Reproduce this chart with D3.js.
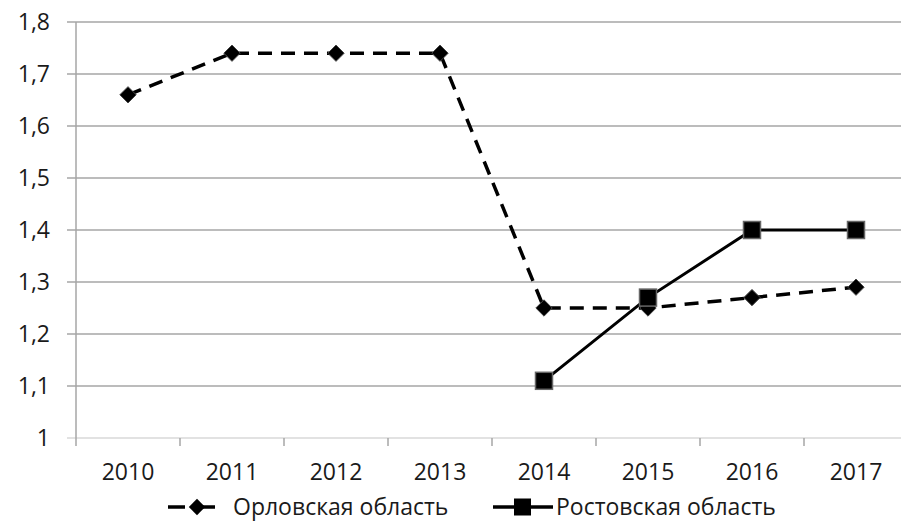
<!DOCTYPE html>
<html>
<head>
<meta charset="utf-8">
<script src="https://cdn.jsdelivr.net/npm/d3@7"></script>
<style>
  body { margin: 0; background: #fff; }
  text { font-family: 'Open Sans', sans-serif; fill: #1a1a1a; }
</style>
</head>
<body>
<svg width="901" height="529"></svg>
<script>
/* line chart: two regions */

// DATA ////////////////////////////////////////////////////////////////////////
const years = ['2010', '2011', '2012', '2013', '2014', '2015', '2016', '2017'];
const orel = [1.66, 1.74, 1.74, 1.74, 1.25, 1.25, 1.27, 1.29];
const rostov = [null, null, null, null, 1.11, 1.27, 1.40, 1.40];
const yTicks = [1, 1.1, 1.2, 1.3, 1.4, 1.5, 1.6, 1.7, 1.8];
const seriesNames = ['Орловская область', 'Ростовская область'];

// SET PARAMETERS //////////////////////////////////////////////////////////////
const svg = d3.select('svg');
const margin = { top: 22, right: -7, bottom: 91, left: 76 };
const width = +svg.attr('width') - margin.left - margin.right;
const height = +svg.attr('height') - margin.top - margin.bottom;
const g = svg
  .append('g')
  .attr('transform', `translate(${margin.left},${margin.top})`);

const x = d3.scaleBand().domain(years).range([0, width]);
const y = d3.scaleLinear().domain([1, 1.8]).range([height, 0]);
const fmt = d => d3.format('.1f')(d).replace('.', ',').replace(',0', '');

// DRAW ///////////////////////////////////////////////////////////////////////
// grid
g.append('g')
  .selectAll('line')
  .data(yTicks)
  .enter()
  .append('line')
  .attr('x1', -9)
  .attr('x2', width)
  .attr('y1', d => y(d))
  .attr('y2', d => y(d))
  .attr('stroke', d => (d === 1 ? '#d9d9d9' : '#a6a6a6'))
  .attr('stroke-width', 1.5);

// y axis
g.append('line')
  .attr('x1', 0)
  .attr('x2', 0)
  .attr('y1', 0)
  .attr('y2', height + 8)
  .attr('stroke', '#a6a6a6')
  .attr('stroke-width', 1.5);

g.append('g')
  .selectAll('text')
  .data(yTicks)
  .enter()
  .append('text')
  .attr('x', -26)
  .attr('y', d => y(d))
  .attr('dy', '0.35em')
  .attr('text-anchor', 'end')
  .style('font-size', '23px')
  .text(fmt);

// x axis ticks at band boundaries
g.append('g')
  .selectAll('line')
  .data(years.slice(1))
  .enter()
  .append('line')
  .attr('x1', d => x(d))
  .attr('x2', d => x(d))
  .attr('y1', height)
  .attr('y2', height + 8)
  .attr('stroke', '#a6a6a6')
  .attr('stroke-width', 1.5);

g.append('g')
  .selectAll('text')
  .data(years)
  .enter()
  .append('text')
  .attr('x', d => x(d) + x.bandwidth() / 2)
  .attr('y', height + 42)
  .attr('text-anchor', 'middle')
  .style('font-size', '23px')
  .text(d => d);

const cx = (d, i) => x(years[i]) + x.bandwidth() / 2;

// Орловская область
const lineOrel = d3
  .line()
  .x(cx)
  .y(d => y(d));

g.append('path')
  .datum(orel)
  .attr('fill', 'none')
  .attr('stroke', '#000')
  .attr('stroke-width', 3.5)
  .attr('stroke-dasharray', '14,9')
  .attr('d', lineOrel);

const diamond = d3.symbol().type(d3.symbolDiamond2).size(170);

g.append('g')
  .selectAll('path')
  .data(orel)
  .enter()
  .append('path')
  .attr('transform', (d, i) => `translate(${cx(d, i)},${y(d)})`)
  .attr('d', diamond)
  .attr('fill', '#000')
  .attr('stroke', '#444')
  .attr('stroke-width', 1);

// Ростовская область
const lineRostov = d3
  .line()
  .defined(d => d !== null)
  .x(cx)
  .y(d => y(d));

g.append('path')
  .datum(rostov)
  .attr('fill', 'none')
  .attr('stroke', '#000')
  .attr('stroke-width', 3)
  .attr('d', lineRostov);

g.append('g')
  .selectAll('rect')
  .data(rostov.map((v, i) => ({ v, i })).filter(d => d.v !== null))
  .enter()
  .append('rect')
  .attr('x', d => cx(d.v, d.i) - 8.5)
  .attr('y', d => y(d.v) - 8.5)
  .attr('width', 17)
  .attr('height', 17)
  .attr('fill', '#000')
  .attr('stroke', '#666')
  .attr('stroke-width', 1.5);

// legend
const legendY = 507;
const leg = svg.append('g');

leg.append('line')
  .attr('x1', 168)
  .attr('x2', 215)
  .attr('y1', legendY)
  .attr('y2', legendY)
  .attr('stroke', '#000')
  .attr('stroke-width', 3.5)
  .attr('stroke-dasharray', '17,13');
leg.append('path')
  .attr('transform', `translate(197,${legendY})`)
  .attr('d', diamond)
  .attr('fill', '#000');
leg.append('text')
  .attr('x', 233)
  .attr('y', legendY)
  .attr('dy', '0.35em')
  .style('font-size', '23px')
  .text(seriesNames[0]);

leg.append('line')
  .attr('x1', 493)
  .attr('x2', 553)
  .attr('y1', legendY)
  .attr('y2', legendY)
  .attr('stroke', '#000')
  .attr('stroke-width', 3.5);
leg.append('rect')
  .attr('x', 514)
  .attr('y', legendY - 8.5)
  .attr('width', 17)
  .attr('height', 17)
  .attr('fill', '#000');
leg.append('text')
  .attr('x', 556)
  .attr('y', legendY)
  .attr('dy', '0.35em')
  .style('font-size', '23px')
  .text(seriesNames[1]);
</script>
</body>
</html>
